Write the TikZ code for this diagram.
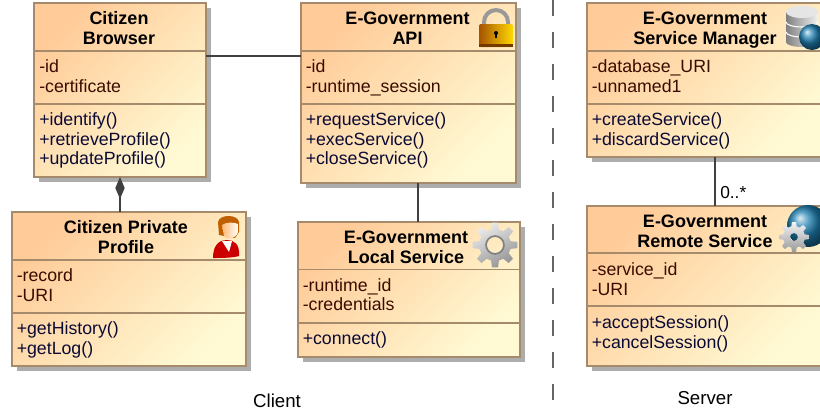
\documentclass[tikz,border=0pt]{standalone}
\usepackage{fontspec}
\setmainfont{Liberation Sans}
\usepackage{xcolor}
\usepackage{tikz}
\usetikzlibrary{arrows.meta,shadows,positioning}

\definecolor{boxedge}{HTML}{A58A6C}
\definecolor{boxstart}{HTML}{FFCB98}
\definecolor{boxend}{HTML}{FFFAD4}
\definecolor{attrtext}{HTML}{3A0C00}
\definecolor{opertext}{HTML}{0A0A35}
\definecolor{linkgray}{HTML}{404040}
\definecolor{globeblue}{HTML}{1E7FB0}

\tikzset{
  classbox/.style={draw=boxedge,line width=1.5*0.75pt,anchor=north west,inner sep=0pt,outer sep=0pt,
    top color=boxstart,bottom color=boxend,middle color=boxstart!50!boxend,shading angle=45,
    drop shadow={shadow xshift=5*0.75pt,shadow yshift=-5*0.75pt,fill=black!32,opacity=1}},
  sepline/.style={draw=boxedge,line width=1.5*0.75pt},
  classtitle/.style={anchor=north,align=center,inner sep=0pt,font=\fontsize{13.5}{14.7}\selectfont\bfseries},
  attrlist/.style={anchor=north west,align=left,inner sep=0pt,text=attrtext,font=\fontsize{13.3}{14.7}\selectfont},
  operlist/.style={anchor=north west,align=left,inner sep=0pt,text=opertext,font=\fontsize{13.3}{14.7}\selectfont},
  assoc/.style={draw=linkgray,line width=1.5*0.75pt},
  caption/.style={inner sep=0pt,font=\fontsize{14}{16}\selectfont}
}

\begin{document}
\begin{tikzpicture}[x=0.75pt,y=-0.75pt]
  \useasboundingbox (0,0) rectangle (820,412);
  \clip (0,0) rectangle (820,412);

  % client side
  \node[classbox,minimum width=129pt,minimum height=130.5pt] (browser) at (34,3) {};
  \draw[sepline] (34,51) -- (206,51);
  \draw[sepline] (34,104) -- (206,104);
  \node[classtitle] (browsertitle) at (119,10.6) {\strut Citizen\\Browser};
  \node[attrlist] (browserattr) at (39,58.6) {\strut -id\\-certificate};
  \node[operlist] (browseroper) at (39,111.6) {\strut +identify()\\+retrieveProfile()\\+updateProfile()};

  \node[classbox,minimum width=161.25pt,minimum height=135pt] (api) at (301,3) {};
  \draw[sepline] (301,51) -- (516,51);
  \draw[sepline] (301,104) -- (516,104);
  \node[classtitle] (apititle) at (407.5,10.6) {\strut E-Government\\API};
  \node[attrlist] (apiattr) at (305.5,58.6) {\strut -id\\-runtime\_session};
  \node[operlist] (apioper) at (305.5,111.6) {\strut +requestService()\\+execService()\\+closeService()};

  \node[classbox,minimum width=175.5pt,minimum height=115.5pt] (profile) at (12,212) {};
  \draw[sepline] (12,260) -- (246,260);
  \draw[sepline] (12,313) -- (246,313);
  \node[classtitle] (profiletitle) at (126,219.6) {\strut Citizen Private\\Profile};
  \node[attrlist] (profileattr) at (16.5,267.6) {\strut -record\\-URI};
  \node[operlist] (profileoper) at (16.5,320.6) {\strut +getHistory()\\+getLog()};

  \node[classbox,minimum width=166.5pt,minimum height=101.25pt] (local) at (298,222) {};
  \draw[sepline] (298,269.5) -- (520,269.5);
  \draw[sepline] (298,323) -- (520,323);
  \node[classtitle] (localtitle) at (406,229.6) {\strut E-Government\\Local Service};
  \node[attrlist] (localattr) at (302.5,277.1) {\strut -runtime\_id\\-credentials};
  \node[operlist] (localoper) at (302.5,330.6) {\strut +connect()};

  % server side, cut by the page edge
  \node[classbox,minimum width=177pt,minimum height=115.5pt] (manager) at (587,3) {};
  \draw[sepline] (587,51) -- (823,51);
  \draw[sepline] (587,104) -- (823,104);
  \node[classtitle] (managertitle) at (705,10.6) {\strut E-Government\\Service Manager};
  \node[attrlist] (managerattr) at (591.5,58.6) {\strut -database\_URI\\-unnamed1};
  \node[operlist] (manageroper) at (591.5,111.6) {\strut +createService()\\+discardService()};

  \node[classbox,minimum width=177pt,minimum height=120pt] (remote) at (587,206) {};
  \draw[sepline] (587,253) -- (823,253);
  \draw[sepline] (587,306) -- (823,306);
  \node[classtitle] (remotetitle) at (705,213.6) {\strut E-Government\\Remote Service};
  \node[attrlist] (remoteattr) at (591.5,261.6) {\strut -service\_id\\-URI};
  \node[operlist] (remoteoper) at (591.5,314.6) {\strut +acceptSession()\\+cancelSession()};

  % connectors
  \draw[assoc] ([yshift=-39.75pt]browser.north east) -- ([yshift=-39.75pt]api.north west);
  \draw[assoc,{Diamond[length=16.5pt,width=7pt,fill=linkgray]}-] (browser.south) -- (browser.south |- profile.north);
  \draw[assoc] ([xshift=7pt]api.south) -- ([xshift=7pt]api.south |- local.north);
  \draw[assoc] ([xshift=7.4pt]manager.south) -- ([xshift=7.4pt]manager.south |- remote.north);
  \node[anchor=base west,inner sep=0pt,font=\fontsize{13}{15}\selectfont] (mult) at (720,198) {0..*};

  % divider and captions
  \coordinate (divtop) at (553,0);
  \coordinate (divend) at (553,403);
  \draw[draw=black!60,line width=1.5pt,dash pattern=on 12pt off 12pt] (divtop) -- (divend);
  \node[caption] (client) at (277,401) {Client};
  \node[caption] (server) at (705,398) {Server};

  % lock icon
  \draw[black!40,line width=3pt] (484,28) -- (484,22) arc (180:360:12 and 12) -- (508,28);
  \shade[left color=orange!65!black,right color=yellow!70!orange,rounded corners=1.5pt] (479,24) rectangle (513,47);
  \fill[orange!45!black] (479,44) rectangle (513,47);
  \fill[black] (496,33) circle (2);
  \fill[black] (495.3,33) rectangle (496.7,38);

  % person icon
  \fill[red!80!black] (213,258) .. controls (213,242) and (222,240) .. (227,240) .. controls (234,240) and (240,244) .. (239,256) .. controls (232,258) and (220,258) .. (213,258) -- cycle;
  \fill[white] (222,241) -- (232,241) -- (229,252) -- cycle;
  \fill[orange!75!black] (219,235) -- (218,222) .. controls (219,214) and (238,214) .. (239,222) -- (239,232) -- (235,238) -- cycle;
  \shade[left color=orange!55!white,right color=white] (222,225) .. controls (226,222) and (234,222) .. (238,224) -- (238,232) .. controls (236,239) and (226,241) .. (224,236) -- cycle;

  % gear icon
  \begin{scope}[shift={(495,245)}]
    \shade[top color=black!8,bottom color=black!42,shading angle=30,even odd rule]
      (0:22.5) \foreach \a in {0,45,...,315} { -- (\a+8:22.5) -- (\a+14:16) -- (\a+31:16) -- (\a+37:22.5)} -- cycle
      (0,0) circle (8);
    \draw[black!50,line width=1.2pt] (0,0) circle (9);
  \end{scope}

  % database icon
  \shade[left color=black!50,right color=black!5] (786,12) -- (786,42) arc (180:0:16 and 5) -- (818,12) -- cycle;
  \fill[black!10] (802,12) ellipse (16 and 6);
  \draw[white,line width=0.8pt] (786,22) arc (180:0:16 and 5);
  \draw[white,line width=0.8pt] (786,32) arc (180:0:16 and 5);
  \shade[ball color=globeblue] (812,37) circle (13);

  % globe and gear icon
  \shade[ball color=globeblue] (808,226) circle (21);
  \begin{scope}[shift={(794,237)}]
    \shade[top color=black!5,bottom color=black!40,even odd rule]
      (0:15) \foreach \a in {0,45,...,315} { -- (\a+8:15) -- (\a+14:11) -- (\a+31:11) -- (\a+37:15)} -- cycle
      (0,0) circle (4);
  \end{scope}
\end{tikzpicture}
\end{document}
